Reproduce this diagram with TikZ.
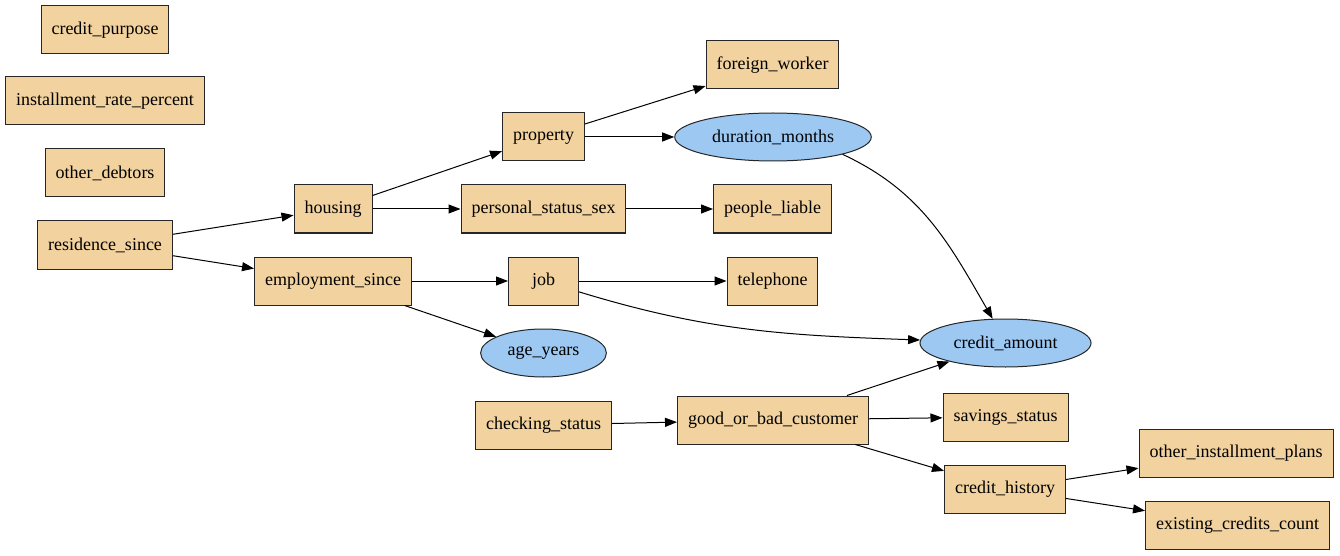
\documentclass[tikz,border=0pt]{standalone}
\usepackage{fontspec}
\setmainfont{Liberation Serif}
\usetikzlibrary{arrows.meta,shapes.geometric}
\definecolor{boxtan}{HTML}{F2D29E}
\definecolor{ellblue}{HTML}{9CC8F2}

\begin{document}
\begin{tikzpicture}
[x=1pt, y=1pt, every node/.style={draw=black!85, line width=1pt, font=\fontsize{18}{20}\selectfont},
 attr/.style={rectangle, fill=boxtan, minimum height=48pt, minimum width=70pt, inner xsep=10.5pt},
 goal/.style={ellipse, fill=ellblue, minimum height=48pt, inner xsep=8.5pt, inner ysep=0pt},
 >={Triangle[length=12pt,width=9pt]}]
\useasboundingbox (0,0) rectangle (1340,555);

\node[attr] (purpose) at (105,525) {credit\_purpose};
\node[attr] (rate) at (105,454) {installment\_rate\_percent};
\node[attr] (debtors) at (105,382) {other\_debtors};
\node[attr] (residence) at (105,310) {residence\_since};

\node[attr] (housing) at (333,346) {housing};
\node[attr] (employment) at (333,274) {employment\_since};

\node[attr] (property) at (543.5,418) {property};
\node[attr] (personal) at (543.5,346) {personal\_status\_sex};
\node[attr] (job) at (543.5,274) {job};
\node[goal] (age) at (543.5,202) {age\_years};
\node[attr] (checking) at (543.5,130) {checking\_status};

\node[attr] (foreign) at (772.5,490) {foreign\_worker};
\node[goal] (duration) at (773,418) {duration\_months};
\node[attr] (liable) at (772.5,346) {people\_liable};
\node[attr] (telephone) at (772.5,274) {telephone};
\node[attr] (customer) at (773,135) {good\_or\_bad\_customer};

\node[goal] (amount) at (1005.5,212) {credit\_amount};
\node[attr] (savings) at (1005.5,138) {savings\_status};
\node[attr] (history) at (1005,66) {credit\_history};

\node[attr] (plans) at (1236,102) {other\_installment\_plans};
\node[attr] (existing) at (1237.5,30) {existing\_credits\_count};

\foreach \from/\to in {residence/housing,residence/employment,housing/property,housing/personal,employment/job,employment/age,property/foreign,property/duration,personal/liable,job/telephone,checking/customer,customer/amount,customer/savings,customer/history,history/plans,history/existing}
	\draw[->, line width=1pt] (\from) -- (\to);
\draw[->, line width=1pt] (job) to[out=-17,in=178] (amount);
\draw[->, line width=1pt] (duration.-14) to[out=-25,in=120] (amount.118);

\end{tikzpicture}
\end{document}
